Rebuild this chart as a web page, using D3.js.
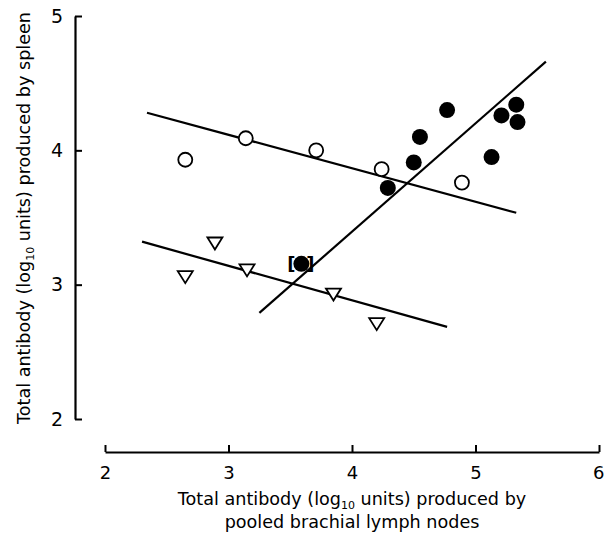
<!DOCTYPE html>
<html><head><meta charset="utf-8">
<script src="https://cdn.jsdelivr.net/npm/d3@7"></script>
<style>body{margin:0;background:#fff}svg{display:block}text{font-family:"DejaVu Sans",sans-serif;fill:#000}</style>
</head><body><svg id="c" width="604" height="535"></svg>
<script>
// Data
const openCircles = [[2.65,3.93],[3.14,4.09],[3.71,4.00],[4.24,3.86],[4.89,3.76]];
const filledCircles = [[4.29,3.72],[4.50,3.91],[4.55,4.10],[4.77,4.30],[5.13,3.95],[5.21,4.26],[5.33,4.34],[5.34,4.21]];
const bracketedPoint = [[3.59,3.155]];
const triangles = [[2.89,3.31],[2.65,3.06],[3.15,3.11],[3.85,2.93],[4.20,2.71]];
const lineOpen = [[2.34,4.28],[5.33,3.535]];
const lineTriangle = [[2.30,3.32],[4.77,2.686]];
const lineFilled = [[3.25,2.79],[5.57,4.66]];
const xTicks = [2,3,4,5,6];
const yTicks = [2,3,4,5];

const svg = d3.select("#c");
const x = d3.scaleLinear().domain([2,6]).range([105,599]);
const y = d3.scaleLinear().domain([2,5]).range([419,16]);
const fmt = d3.format("d");

// axes
const xAxis = d3.axisBottom(x).tickValues(xTicks).tickFormat(fmt).tickSize(-7).tickPadding(14).tickSizeOuter(0);
const gx = svg.append("g").attr("transform","translate(0,452)").call(xAxis);
gx.select(".domain").attr("stroke-width",2.2);
gx.selectAll(".tick line").attr("stroke-width",2);
gx.selectAll(".tick text").attr("font-size",18).attr("font-family","Liberation Sans, Arial, sans-serif");
gx.selectAll(".tick text").filter(d=>d===6).attr("text-anchor","end").attr("dx",5);

const yAxis = d3.axisLeft(y).tickValues(yTicks).tickFormat(fmt).tickSize(-7).tickPadding(12).tickSizeOuter(0);
const gy = svg.append("g").attr("transform","translate(75,0)").call(yAxis);
gy.select(".domain").attr("stroke-width",2.2);
gy.selectAll(".tick line").attr("stroke-width",2);
gy.selectAll(".tick text").attr("font-size",19).attr("font-family","Liberation Sans, Arial, sans-serif");

// lines
const line = d3.line().x(d=>x(d[0])).y(d=>y(d[1]));
[lineOpen,lineTriangle,lineFilled].forEach(l=>{
  svg.append("path").attr("d",line(l)).attr("fill","none").attr("stroke","#000").attr("stroke-width",2.2);
});

// open circles
svg.selectAll(".oc").data(openCircles).enter().append("circle")
  .attr("cx",d=>x(d[0])).attr("cy",d=>y(d[1])).attr("r",7)
  .attr("fill","#fff").attr("stroke","#000").attr("stroke-width",1.8);

// filled circles
svg.selectAll(".fc").data(filledCircles.concat(bracketedPoint)).enter().append("circle")
  .attr("cx",d=>x(d[0])).attr("cy",d=>y(d[1])).attr("r",8).attr("fill","#000");

// brackets
bracketedPoint.forEach(d=>{
  svg.append("text").attr("x",x(d[0])-14).attr("y",y(d[1])+6).attr("font-size",18).attr("font-weight","bold").text("[");
  svg.append("text").attr("x",x(d[0])+5).attr("y",y(d[1])+6).attr("font-size",18).attr("font-weight","bold").text("]");
});

// triangles (pointing down)
const tri = "M-7.5,-5.5L7.5,-5.5L0,6.5Z";
svg.selectAll(".tr").data(triangles).enter().append("path")
  .attr("d",tri).attr("transform",d=>`translate(${x(d[0])},${y(d[1])})`)
  .attr("fill","#fff").attr("stroke","#000").attr("stroke-width",1.8).attr("stroke-linejoin","miter");

// axis labels
const xl = svg.append("text").attr("x",352).attr("y",505).attr("text-anchor","middle").attr("font-size",17.6);
xl.append("tspan").text("Total antibody (log");
xl.append("tspan").attr("font-size",11).attr("dy",4).text("10");
xl.append("tspan").attr("dy",-4).text(" units) produced by");
svg.append("text").attr("x",352).attr("y",528).attr("text-anchor","middle").attr("font-size",17.6).text("pooled brachial lymph nodes");

const yl = svg.append("text").attr("transform","translate(30,218) rotate(-90)").attr("text-anchor","middle").attr("font-size",17.6);
yl.append("tspan").text("Total antibody (log");
yl.append("tspan").attr("font-size",11).attr("dy",4).text("10");
yl.append("tspan").attr("dy",-4).text(" units)  produced  by  spleen");
</script></body></html>
